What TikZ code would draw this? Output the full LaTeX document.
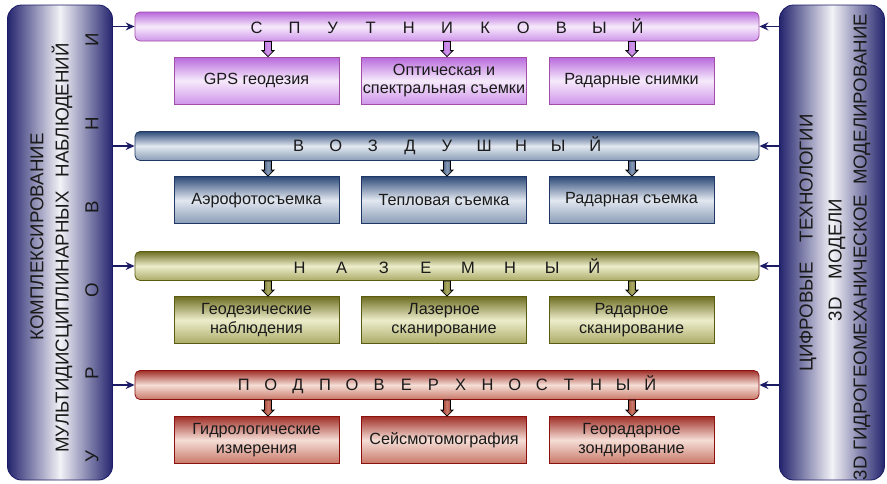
\documentclass[tikz,border=0pt]{standalone}
\usepackage{fontspec}
\setmainfont{Liberation Sans}
\usetikzlibrary{calc,arrows.meta}
\definecolor{navyD}{HTML}{24246E}
\definecolor{navyB}{HTML}{1C1C66}
\definecolor{panelL}{HTML}{F2F2F7}
\definecolor{pBd}{HTML}{A24EA8}
\definecolor{pT}{HTML}{B868DC}
\definecolor{pM}{HTML}{F6EAFB}
\definecolor{pB}{HTML}{CF96EA}
\definecolor{nBd}{HTML}{1F3864}
\definecolor{nT}{HTML}{2E4A78}
\definecolor{nM}{HTML}{E2E8F0}
\definecolor{nB}{HTML}{8A9CB6}
\definecolor{oBd}{HTML}{5B5B12}
\definecolor{oT}{HTML}{6E6E22}
\definecolor{oM}{HTML}{EDEDCC}
\definecolor{oB}{HTML}{ABAB68}
\definecolor{rBd}{HTML}{8B1010}
\definecolor{rT}{HTML}{A03028}
\definecolor{rM}{HTML}{F5DED6}
\definecolor{rB}{HTML}{C87868}
\definecolor{txt}{HTML}{1A1A1A}
\makeatletter
\newcommand\spreadtext[2]{\def\sp@pitch{#2}\sp@loop#1\@nil}
\def\sp@loop#1{\ifx#1\@nil\else\makebox[\sp@pitch][c]{#1}\expandafter\sp@loop\fi}
\makeatother
\newcommand\dnarrow[4]{%
  \draw[#4, draw=black, line width=0.8pt]
    ($(#2.south -| #1)+(-3.5,0)$) -- ($(#2.south -| #1)+(3.5,0)$)
    -- ($(#3.north -| #1)+(3.5,-6)$) -- ($(#3.north -| #1)+(6,-6)$)
    -- (#3.north -| #1) -- ($(#3.north -| #1)+(-6,-6)$)
    -- ($(#3.north -| #1)+(-3.5,-6)$) -- cycle;}
\begin{document}
\begin{tikzpicture}[x=1pt,y=-1pt,
  panel/.style={draw=navyB, line width=0.8pt, rounded corners=14pt,
    left color=navyD, right color=navyD, middle color=panelL,
    minimum width=105pt, minimum height=475pt, inner sep=0pt},
  ptext/.style={rotate=90, inner sep=0pt, text=txt, font=\fontsize{18.7}{21}\selectfont},
  bar/.style={rounded corners=5pt, line width=0.8pt, minimum width=624pt,
    minimum height=29pt, inner sep=0pt, text=txt, font=\fontsize{16.5}{19}\selectfont},
  box/.style={line width=0.8pt, minimum width=165pt, minimum height=47pt,
    inner sep=0pt, align=center, text=txt, font=\fontsize{16.2}{18.5}\selectfont},
  rowP/.style={draw=pBd, top color=pT, bottom color=pB, middle color=pM},
  rowN/.style={draw=nBd, top color=nT, bottom color=nB, middle color=nM},
  rowO/.style={draw=oBd, top color=oT, bottom color=oB, middle color=oM},
  rowR/.style={draw=rBd, top color=rT, bottom color=rB, middle color=rM},
  arP/.style={left color=pT, right color=pT, middle color=pB},
  arN/.style={left color=nT, right color=nT, middle color=nB},
  arO/.style={left color=oT, right color=oT, middle color=oB},
  arR/.style={left color=rT, right color=rT, middle color=rB},
  link/.style={draw=navyB, line width=1.2pt, -{Stealth[length=9pt,width=8pt,inset=3pt]}}
]
\useasboundingbox (0,0) rectangle (887,483);
\coordinate (c1) at (268,0);
\coordinate (c2) at (447,0);
\coordinate (c3) at (632,0);
% side panels
\node[panel] (L) at (60,242.5) {};
\node[panel] (R) at (832,242.5) {};
\node[ptext] (lt1) at (37,237) {КОМПЛЕКСИРОВАНИЕ};
\node[ptext] (lt2) at (62,248) {МУЛЬТИДИСЦИПЛИНАРНЫХ\hspace{14pt}НАБЛЮДЕНИЙ};
\node[ptext] (lt3) at (92,248.5) {\spreadtext{УРОВНИ}{83.4pt}};
\node[ptext] (rt1) at (808,243) {ЦИФРОВЫЕ\hspace{20pt}ТЕХНОЛОГИИ};
\node[ptext] (rt2) at (837,260) {3D\hspace{18pt}МОДЕЛИ};
\node[ptext] (rt3) at (862,247) {3D ГИДРОГЕОМЕХАНИЧЕСКОЕ\hspace{10pt}МОДЕЛИРОВАНИЕ};
% bars
\node[bar,rowP] (b1) at (447,26.5) {\spreadtext{СПУТНИКОВЫЙ}{38.1pt}};
\node[bar,rowN] (b2) at (447,146) {\spreadtext{ВОЗДУШНЫЙ}{37.1pt}};
\node[bar,rowO] (b3) at (447,266) {\spreadtext{НАЗЕМНЫЙ}{42.1pt}};
\node[bar,rowR] (b4) at (447,385) {\spreadtext{ПОДПОВЕРХНОСТНЫЙ}{27.1pt}};
% boxes
\node[box,rowP] (s1) at (256.5,80.5) {GPS геодезия};
\node[box,rowP] (s2) at (444,80.5) {Оптическая и\\спектральная съемки};
\node[box,rowP] (s3) at (631.5,80.5) {Радарные снимки};
\node[box,rowN] (a1) at (256.5,200) {Аэрофотосъемка};
\node[box,rowN] (a2) at (444,200) {Тепловая съемка};
\node[box,rowN] (a3) at (631.5,200) {Радарная съемка};
\node[box,rowO] (g1) at (256.5,320) {Геодезические\\наблюдения};
\node[box,rowO] (g2) at (444,320) {Лазерное\\сканирование};
\node[box,rowO] (g3) at (631.5,320) {Радарное\\сканирование};
\node[box,rowR] (u1) at (256.5,440) {Гидрологические\\измерения};
\node[box,rowR] (u2) at (444,440) {Сейсмотомография};
\node[box,rowR] (u3) at (631.5,440) {Георадарное\\зондирование};
% down arrows
\dnarrow{c1}{b1}{s1}{arP}\dnarrow{c2}{b1}{s2}{arP}\dnarrow{c3}{b1}{s3}{arP}
\dnarrow{c1}{b2}{a1}{arN}\dnarrow{c2}{b2}{a2}{arN}\dnarrow{c3}{b2}{a3}{arN}
\dnarrow{c1}{b3}{g1}{arO}\dnarrow{c2}{b3}{g2}{arO}\dnarrow{c3}{b3}{g3}{arO}
\dnarrow{c1}{b4}{u1}{arR}\dnarrow{c2}{b4}{u2}{arR}\dnarrow{c3}{b4}{u3}{arR}
% panel links
\foreach \b in {b1,b2,b3,b4}{
  \draw[link] (L.east |- \b.west) -- (\b.west);
  \draw[link] (R.west |- \b.east) -- (\b.east);
}
\end{tikzpicture}
\end{document}
